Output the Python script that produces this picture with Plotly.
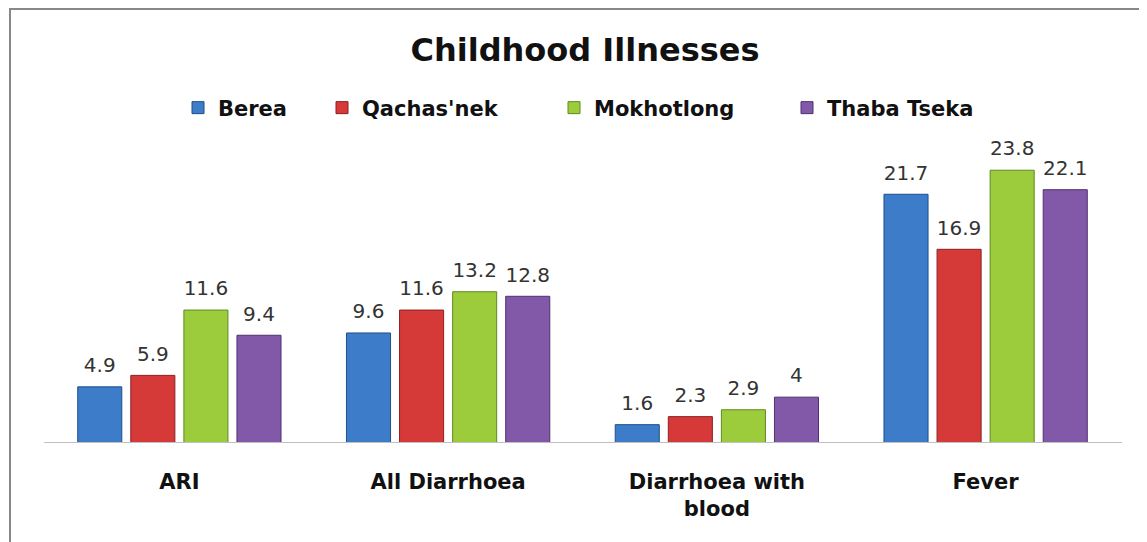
import plotly.graph_objects as go

categories = ["ARI", "All Diarrhoea", "Diarrhoea with<br>blood", "Fever"]
series_names = ["Berea", "Qachas'nek", "Mokhotlong", "Thaba Tseka"]
berea = [4.9, 9.6, 1.6, 21.7]
qachas = [5.9, 11.6, 2.3, 16.9]
mokhotlong = [11.6, 13.2, 2.9, 23.8]
thaba = [9.4, 12.8, 4, 22.1]
values = [berea, qachas, mokhotlong, thaba]
colors = ["#3d7cc9", "#d63a38", "#9ccc3c", "#8259a8"]
edges = ["#1f4f8a", "#8c1f1f", "#5f8a1f", "#4f3070"]

# page body has an 8px margin, so the figure is sized to fit the window
OFF = 8
W, H = 1147 - OFF, 542 - OFF
L, R = 45 - OFF, W - (1120 - OFF)
base_y = 443 - OFF
ymax = 26
ph = 298
B = H - base_y
T = base_y - ph
pw = W - L - R
legend_x = [178, 322, 554, 787]
legend_ids = ["legend", "legend2", "legend3", "legend4"]

fig = go.Figure()
for i, (name, vals, c, e) in enumerate(zip(series_names, values, colors, edges)):
    fig.add_trace(go.Bar(
        x=categories, y=vals, name=name, offsetgroup=str(i), legend=legend_ids[i],
        marker=dict(color=c, line=dict(color=e, width=1)),
    ))
for i, vals in enumerate(values):
    fig.add_trace(go.Scatter(
        x=categories, y=vals, offsetgroup=str(i), mode="markers+text",
        text=[f"{v:g}" for v in vals], textposition="top center",
        marker=dict(size=14, color="rgba(0,0,0,0)"),
        textfont=dict(family="DejaVu Sans", size=20, color="#333333"),
        showlegend=False, cliponaxis=False, hoverinfo="skip",
    ))

legends = {}
for i, lid in enumerate(legend_ids):
    legends[lid] = dict(orientation="h", x=(legend_x[i] - OFF) / W, xref="container",
                        xanchor="left", y=1 - (108 - OFF) / H, yref="container",
                        yanchor="middle", bgcolor="rgba(0,0,0,0)",
                        font=dict(family="DejaVu Sans", size=21, color="#111111", weight="bold"),
                        itemwidth=30)

fig.update_layout(
    width=W, height=H,
    margin=dict(l=L, r=R, t=T, b=B),
    paper_bgcolor="white", plot_bgcolor="white",
    barmode="group", bargap=0.21, bargroupgap=0.17,
    scattermode="group", scattergap=0.21,
    title=dict(text="<b>Childhood Illnesses</b>", x=(585 - OFF) / W, xanchor="center",
               y=1 - (50 - OFF) / H, yanchor="middle",
               font=dict(family="DejaVu Sans", size=32, color="#111111")),
    showlegend=True,
    xaxis=dict(showline=False, ticks="", showgrid=False, ticklabelstandoff=24,
               tickfont=dict(family="DejaVu Sans", size=21, color="#111111", weight="bold")),
    yaxis=dict(range=[0, ymax], visible=False, showgrid=False),
    shapes=[
        dict(type="rect", xref="paper", yref="paper",
             x0=(10 - OFF - L) / pw, x1=(W + 10 - L) / pw,
             y0=-(B + 10) / ph, y1=(H - (9 - OFF) - B) / ph,
             line=dict(color="#888888", width=2), fillcolor="rgba(0,0,0,0)", layer="below"),
        dict(type="line", xref="paper", yref="y",
             x0=(44 - OFF - L) / pw, x1=(1122 - OFF - L) / pw, y0=0, y1=0,
             line=dict(color="#c0c0c0", width=2)),
    ],
    **legends,
)
fig.write_html("out.html")
